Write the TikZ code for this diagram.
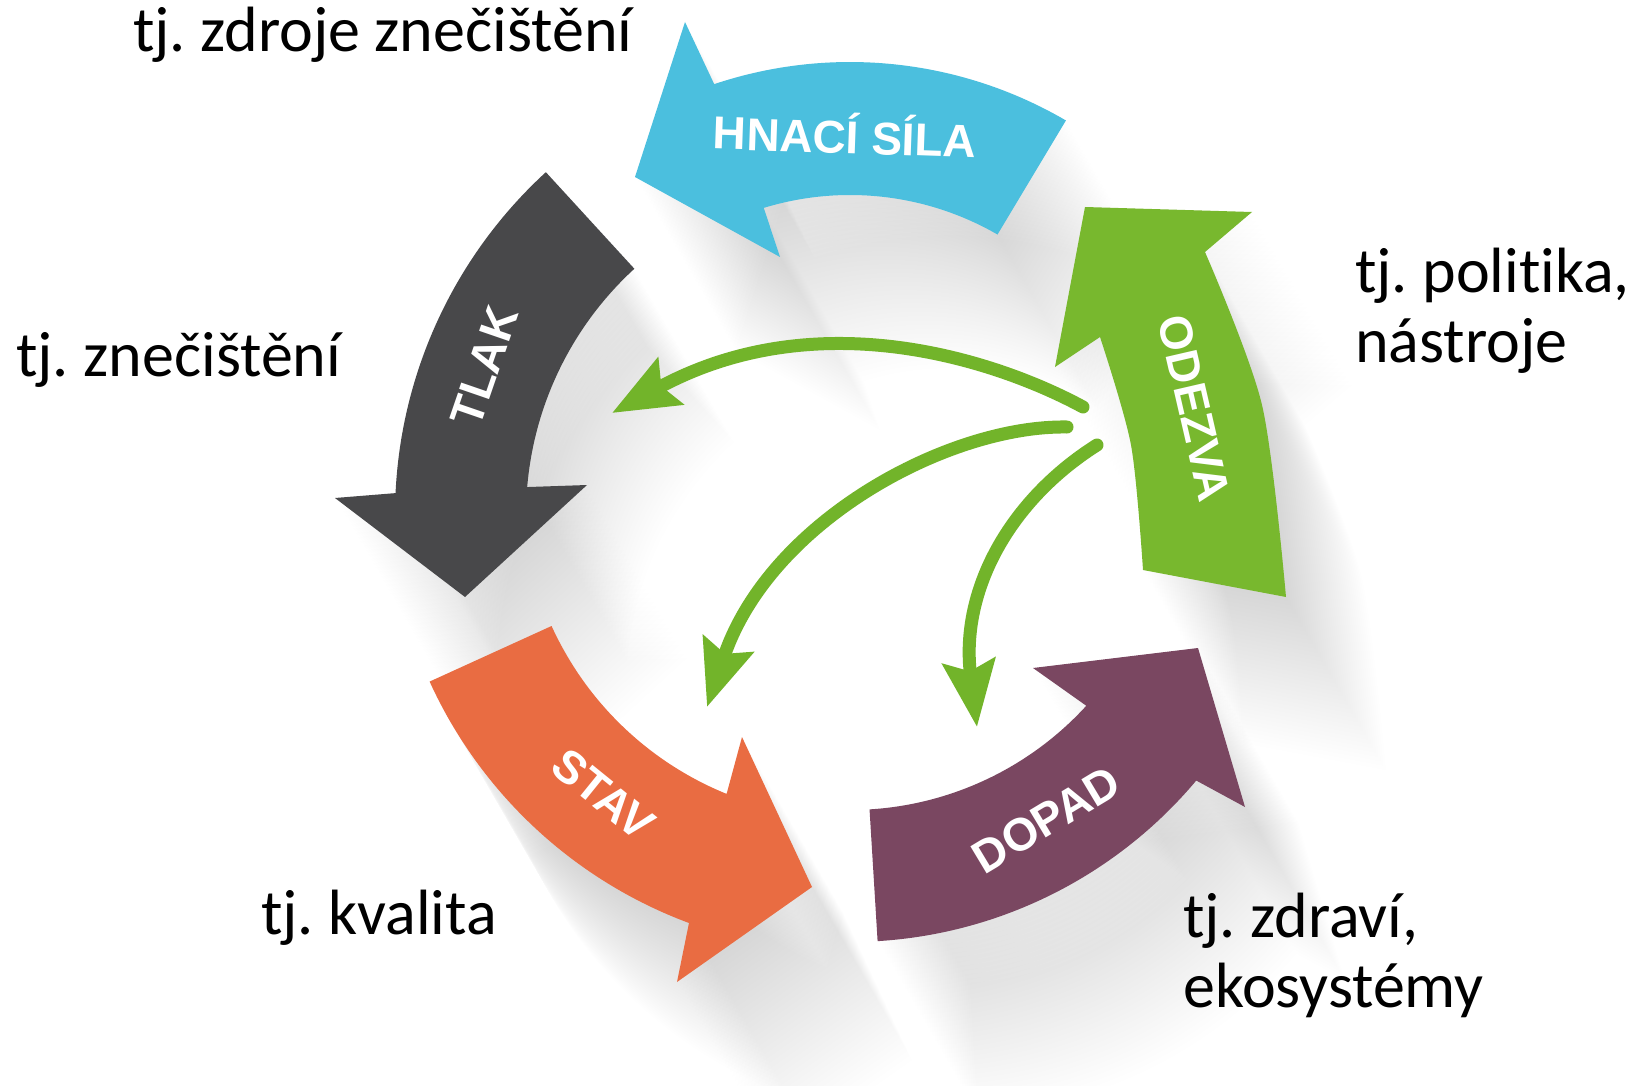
\documentclass[tikz,border=0pt]{standalone}
\usepackage{fontspec}
\setmainfont{Carlito}[Ligatures=NoCommon]
\newfontfamily\arrowfont{Liberation Sans}
\usetikzlibrary{arrows.meta}
\frenchspacing

\definecolor{cBlue}{HTML}{4BBFDE}
\definecolor{cDark}{HTML}{48484A}
\definecolor{cGreen}{HTML}{78B82E}
\definecolor{cGreenL}{HTML}{72B42A}
\definecolor{cOrange}{HTML}{E96C42}
\definecolor{cPurple}{HTML}{7A4761}

\newcommand\shpHnaci{(685,22) -- ([shift={(251.5:428)}]850,490) arc[start angle=251.5, end angle=300.3, radius=428] -- ([shift={(300:295)}]850,490) arc[start angle=300, end angle=253, radius=295] -- (780,257) -- (635,177) -- cycle}
\newcommand\shpTlak{([shift={(227.5:465)}]860,515) arc[start angle=227.5, end angle=182.7, radius=465] -- (335,498) -- (465,597) -- (587,485) -- ([shift={(184.8:334)}]860,515) arc[start angle=184.8, end angle=227.5, radius=334] -- cycle}
\newcommand\shpOdezva{(1085,207) -- (1252,212) -- plot[smooth] coordinates {(1205,252) (1262,405) (1286,597)} -- plot[smooth] coordinates {(1143,570) (1131,445) (1100,337)} -- (1055,367) -- cycle}
\newcommand\shpStav{([shift={(155.5:462)}]850,490) arc[start angle=155.5, end angle=110.4, radius=462] -- (677,982) -- (812,887) -- (742,737) -- ([shift={(112.1:328)}]850,490) arc[start angle=112.1, end angle=155.5, radius=328] -- cycle}
\newcommand\shpDopad{([shift={(86.5:320)}]850,490) arc[start angle=86.5, end angle=42.4, radius=320] -- (1033,668) -- (1198,648) -- (1245,807) -- ([shift={(40:452)}]850,490) arc[start angle=40, end angle=86.5, radius=452] -- cycle}

\tikzset{
  lbl/.style={font=\fontsize{64}{76}\selectfont, inner sep=0pt, text=black},
  shadowcopy/.style={fill=black, opacity=0.0042},
  arrowlbl/.style={font=\arrowfont\bfseries\fontsize{46}{46}\selectfont,
      text=white, inner sep=0pt, text height=33pt, text depth=0pt},
  gline/.style={draw=cGreenL, line width=13pt, line cap=round,
      -{Stealth[length=66pt,width=52pt,inset=10pt]}}
}

\begin{document}
\begin{tikzpicture}[x=1pt,y=-1pt]
\useasboundingbox (0,0) rectangle (1639,1086);
\fill[white] (0,0) rectangle (1639,1086);

% long soft shadows
\foreach \k in {1,...,40}{
  \fill[shadowcopy, shift={(\k*2.5,\k*4.33)}] \shpHnaci;
  \fill[shadowcopy, shift={(\k*2.5,\k*4.33)}] \shpTlak;
  \fill[shadowcopy, shift={(\k*2.5,\k*4.33)}] \shpOdezva;
  \fill[shadowcopy, shift={(\k*2.5,\k*4.33)}] \shpStav;
  \fill[shadowcopy, shift={(\k*2.5,\k*4.33)}] \shpDopad;
}

% the five cycle arrows
\fill[cBlue] \shpHnaci;
\fill[cDark] \shpTlak;
\fill[cGreen] \shpOdezva;
\fill[cOrange] \shpStav;
\fill[cPurple] \shpDopad;

% labels on the arrows
\node[arrowlbl, rotate=-2] (nH) at (845,137) {HNACÍ SÍLA};
\node[arrowlbl, rotate=71] (nT) at (484,366) {TLAK};
\node[arrowlbl, rotate=-77] (nO) at (1195,408) {ODEZVA};
\node[arrowlbl, rotate=-39] (nS) at (604,794) {STAV};
\node[arrowlbl, rotate=31] (nDp) at (1046,819) {DOPAD};

% response arrows from ODEZVA
\coordinate (o1) at (1083,407);
\coordinate (o2) at (1067,427);
\coordinate (o3) at (1097,445);
\coordinate (t1) at (612,413);
\coordinate (t2) at (707,707);
\coordinate (t3) at (977,727);
\draw[gline] (o1) .. controls (1000,362) and (820,300) .. (t1);
\draw[gline] (o2) .. controls (950,425) and (770,520) .. (t2);
\draw[gline] (o3) .. controls (1010,500) and (960,590) .. (t3);

% outer labels
\node[lbl, anchor=base west] (lD) at (133,52) {tj. zdroje znečištění};
\node[lbl, anchor=base west] (lP) at (16,376) {tj. znečištění};
\node[lbl, anchor=base west] (lR1) at (1355,292) {tj. politika,};
\node[lbl, anchor=base west] (lR2) at (1355,362) {nástroje};
\node[lbl, anchor=base west] (lS) at (261,934) {tj. kvalita};
\node[lbl, anchor=base west] (lI1) at (1183,937) {tj. zdraví,};
\node[lbl, anchor=base west] (lI2) at (1183,1007) {ekosystémy};
\end{tikzpicture}
\end{document}
